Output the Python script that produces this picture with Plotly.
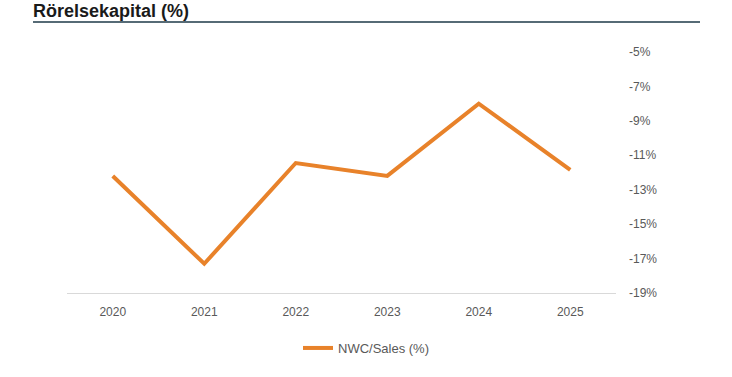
import plotly.graph_objects as go

years = ["2020", "2021", "2022", "2023", "2024", "2025"]
nwc_sales = [-12.2, -17.3, -11.45, -12.2, -8.0, -11.85]
y_ticks = [-19, -17, -15, -13, -11, -9, -7, -5]
y_tick_labels = ["-19%", "-17%", "-15%", "-13%", "-11%", "-9%", "-7%", "-5%"]

W, H = 732, 377
PL, PR, PT, PB = 67, 616, 52, 293  # plot area in pixels
L = PL
R = W - PR
T = PT
B = H - PB
pw = W - L - R
ph = H - T - B

def px_to_paper_x(px):
    return (px - L) / pw

def px_to_paper_y(py):
    return (H - B - py) / ph

fig = go.Figure()
fig.add_trace(go.Scatter(
    x=years, y=nwc_sales, mode="lines", name="NWC/Sales (%)",
    line=dict(color="#E8822A", width=4),
))

fig.update_layout(
    width=W, height=H,
    margin=dict(l=L, r=R, t=T, b=B, autoexpand=False),
    paper_bgcolor="white", plot_bgcolor="white",
    font=dict(family="Liberation Sans, Arial, sans-serif", color="#595959", size=12),
    title=dict(
        text="<b>Rörelsekapital (%)</b>",
        font=dict(size=18, color="#1a1a1a", family="Liberation Sans, Arial, sans-serif"),
        xref="container", yref="container",
        x=33 / W, xanchor="left", y=1 - 11 / H, yanchor="middle",
        automargin=False,
    ),
    showlegend=True,
    legend=dict(
        orientation="h",
        x=px_to_paper_x(298), xanchor="left",
        y=px_to_paper_y(348), yanchor="middle",
        font=dict(size=13, color="#595959"),
    ),
    xaxis=dict(
        type="category", range=[-0.5, 5.5], showgrid=False, showline=True,
        linecolor="#d9d9d9", linewidth=1,
        ticks="", tickfont=dict(size=12, color="#595959"), ticklabelstandoff=8,
        zeroline=False, automargin=False,
    ),
    yaxis=dict(
        side="right", range=[-19, -5], tickmode="array",
        tickvals=y_ticks, ticktext=y_tick_labels,
        showgrid=False, zeroline=False, showline=False, ticks="",
        tickfont=dict(size=12, color="#595959"), ticklabelstandoff=12,
        automargin=False,
    ),
)

fig.add_shape(
    type="line", xref="paper", yref="paper",
    x0=px_to_paper_x(33), x1=px_to_paper_x(700),
    y0=px_to_paper_y(22), y1=px_to_paper_y(22),
    line=dict(color="#1e3a48", width=1.5),
)

fig.write_html(
    "out.html",
    config={"displayModeBar": False},
    post_script="document.body.style.margin='0';document.body.style.overflow='hidden';",
)
